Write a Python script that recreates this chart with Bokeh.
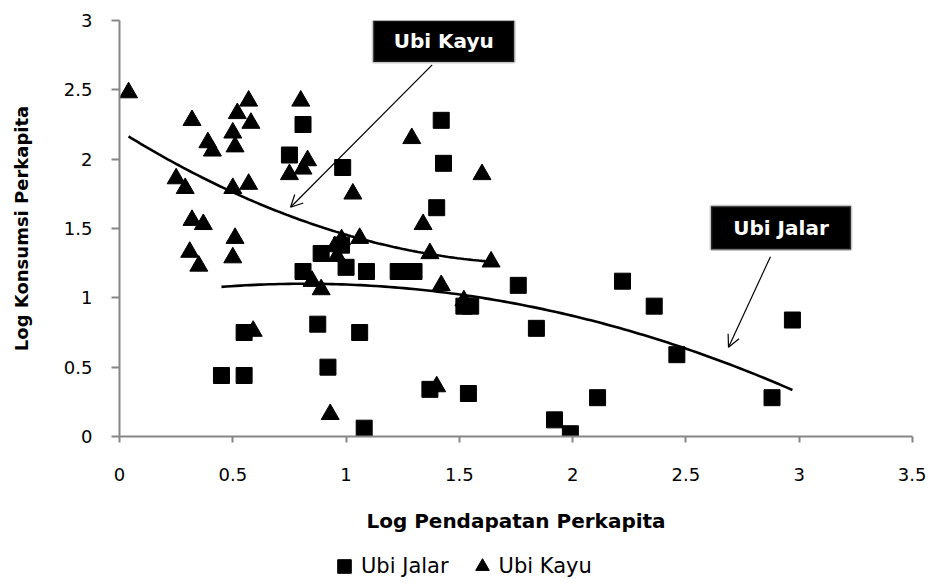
import numpy as np
from bokeh.plotting import figure
from bokeh.layouts import column
from bokeh.models import (Range1d, FixedTicker, NumeralTickFormatter, Legend, LegendItem,
                          Arrow, OpenHead, BoxAnnotation, Label)
from bokeh.embed import file_html
from bokeh.resources import INLINE

# ---- data ----
jalar_x = [0.81, 0.75, 0.985, 0.89, 0.81, 1.00, 0.98, 0.55, 0.875, 0.45, 0.55, 0.92,
           1.08, 1.06, 1.42, 1.43, 1.40, 1.09, 1.23, 1.30, 1.76, 1.37, 1.54, 1.52,
           1.55, 1.84, 2.22, 2.36, 2.46, 2.97, 2.88, 2.11, 1.92, 1.99]
jalar_y = [2.25, 2.03, 1.94, 1.32, 1.19, 1.22, 1.38, 0.75, 0.81, 0.44, 0.44, 0.50,
           0.06, 0.75, 2.28, 1.97, 1.65, 1.19, 1.19, 1.19, 1.09, 0.34, 0.31, 0.94,
           0.94, 0.78, 1.12, 0.94, 0.59, 0.84, 0.28, 0.28, 0.12, 0.02]

kayu_x = [0.04, 0.32, 0.57, 0.80, 0.52, 0.58, 0.50, 0.39, 0.41, 0.51, 0.25, 0.29,
          0.50, 0.57, 0.32, 0.37, 0.51, 0.31, 0.35, 0.50, 0.83, 0.81, 0.75, 1.03,
          0.85, 0.89, 0.59, 0.93, 1.29, 1.60, 1.34, 1.06, 1.37, 1.64, 1.42, 1.40,
          1.52, 0.95, 0.98, 0.96]
kayu_y = [2.48, 2.28, 2.42, 2.42, 2.33, 2.26, 2.19, 2.12, 2.06, 2.09, 1.86, 1.79,
          1.79, 1.82, 1.56, 1.53, 1.43, 1.33, 1.23, 1.29, 1.99, 1.93, 1.89, 1.75,
          1.12, 1.06, 0.76, 0.16, 2.15, 1.89, 1.53, 1.43, 1.32, 1.26, 1.09, 0.36,
          0.98, 1.37, 1.42, 1.30]

series_names = ["Ubi Jalar", "Ubi Kayu"]
x_ticks = [0, 0.5, 1, 1.5, 2, 2.5, 3, 3.5]
y_ticks = [0, 0.5, 1, 1.5, 2, 2.5, 3]
x_title = "Log Pendapatan Perkapita"
y_title = "Log Konsumsi Perkapita"

FONT = "DejaVu Sans"
AXIS_GREY = "#868686"

p = figure(width=926, height=547, x_range=Range1d(0, 3.5), y_range=Range1d(0, 3),
           output_backend="svg", toolbar_location=None,
           min_border_left=119, min_border_right=14, min_border_top=20, min_border_bottom=111)
p.outline_line_color = None
p.xgrid.visible = False
p.ygrid.visible = False
p.background_fill_color = "white"
p.border_fill_color = "white"

# trend lines (2nd order polynomial fits, like the spreadsheet trendlines)
for xs, ys in ((kayu_x, kayu_y), (jalar_x, jalar_y)):
    c = np.polyfit(xs, ys, 2)
    tx = np.linspace(min(xs), max(xs), 120)
    p.line(tx, np.polyval(c, tx), line_color="black", line_width=2.6)

p.scatter(jalar_x, jalar_y, marker="square", size=16, fill_color="black", line_color="black")
p.scatter(kayu_x, kayu_y, marker="triangle", size=18, fill_color="black", line_color="black")

# axes
for ax in (p.xaxis[0], p.yaxis[0]):
    ax.axis_line_color = AXIS_GREY
    ax.axis_line_width = 2
    ax.major_tick_line_color = AXIS_GREY
    ax.major_tick_line_width = 2
    ax.minor_tick_line_color = None
    ax.major_tick_in = 0
    ax.major_label_text_font = FONT
    ax.major_label_text_font_size = "18px"
    ax.major_label_text_color = "black"
    ax.axis_label_text_font = FONT
    ax.axis_label_text_font_style = "bold"
    ax.axis_label_text_color = "black"
    ax.formatter = NumeralTickFormatter(format="0.[0]")

p.xaxis[0].ticker = FixedTicker(ticks=x_ticks)
p.yaxis[0].ticker = FixedTicker(ticks=y_ticks)
p.xaxis[0].major_tick_out = 6
p.yaxis[0].major_tick_out = 8
p.xaxis[0].major_label_standoff = 25
p.yaxis[0].major_label_standoff = 19
p.xaxis[0].axis_label = x_title
p.yaxis[0].axis_label = y_title
p.xaxis[0].axis_label_text_font_size = "20px"
p.yaxis[0].axis_label_text_font_size = "18px"
p.xaxis[0].axis_label_standoff = 25
p.yaxis[0].axis_label_standoff = 29

# annotation boxes with arrows
boxes = [("Ubi Kayu", 1.12, 1.742, 3.0, 2.70, 1.38, 2.68, 0.755, 1.653),
         ("Ubi Jalar", 2.611, 3.228, 1.66, 1.348, 2.873, 1.297, 2.688, 0.644)]
for txt, l, r, t, b, xs0, ys0, xe, ye in boxes:
    p.add_layout(BoxAnnotation(left=l, right=r, top=t, bottom=b, fill_color="black",
                               fill_alpha=1.0, line_color="#4a4a4a", line_width=3))
    p.add_layout(Label(x=(l + r) / 2, y=(t + b) / 2, text=txt, text_color="white",
                       text_font=FONT, text_font_style="bold", text_font_size="20px",
                       text_align="center", text_baseline="middle"))
    p.add_layout(Arrow(end=OpenHead(size=12, line_width=1.2, line_color="black"),
                       x_start=xs0, y_start=ys0, x_end=xe, y_end=ye,
                       line_width=1.2, line_color="black"))

# legend strip below the chart (proxy renderers kept outside the strip's visible range)
pl = figure(width=926, height=38, output_backend="svg", toolbar_location=None,
            min_border=0, x_range=Range1d(0, 1), y_range=Range1d(0, 1))
pl.axis.visible = False
pl.grid.visible = False
pl.outline_line_color = None
lj = pl.scatter([-5], [-5], marker="square", size=14, fill_color="black", line_color="black")
lk = pl.scatter([-5], [-5], marker="triangle", size=14, fill_color="black", line_color="black")
legend = Legend(items=[LegendItem(label=series_names[0], renderers=[lj]),
                       LegendItem(label=series_names[1], renderers=[lk])],
                orientation="horizontal", location=(208, 1),
                glyph_width=34, glyph_height=36, label_standoff=0, spacing=16,
                margin=0, padding=0, border_line_color=None, background_fill_alpha=0,
                label_text_font=FONT, label_text_font_size="21px", label_text_color="black")
pl.add_layout(legend, "center")

open("out.html", "w").write(file_html(column(p, pl, spacing=0), INLINE))
